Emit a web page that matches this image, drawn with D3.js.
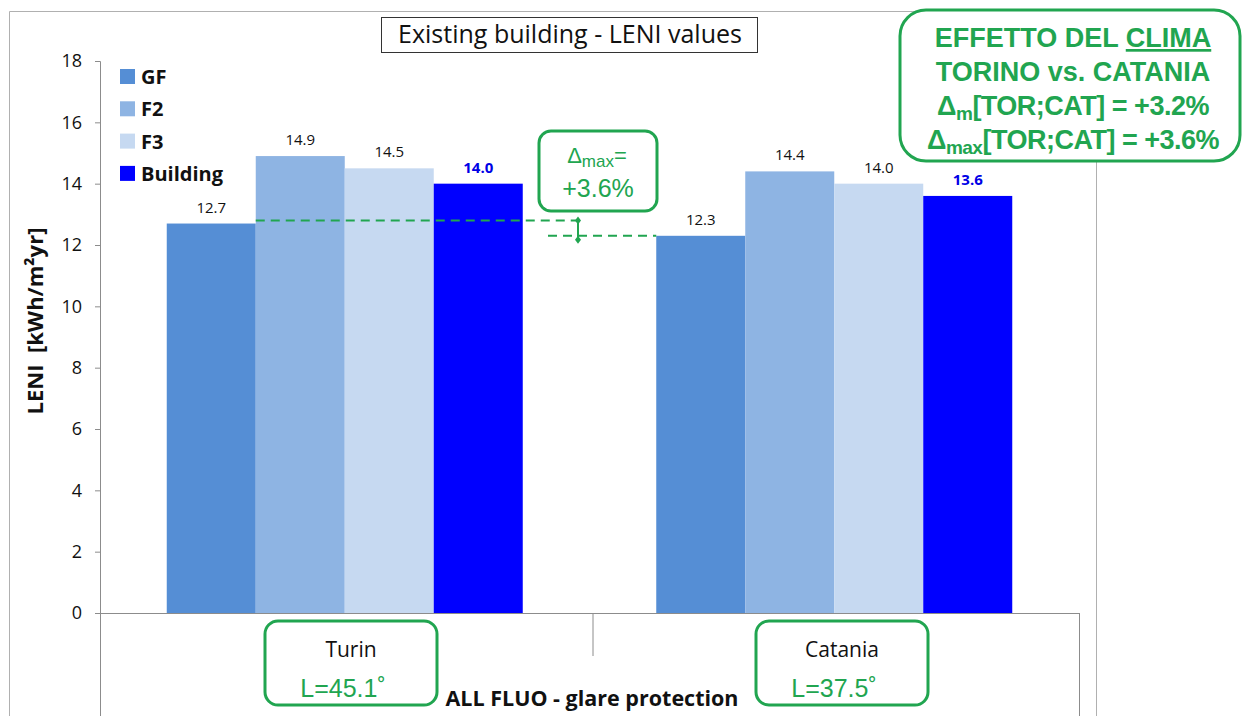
<!DOCTYPE html>
<html><head><meta charset="utf-8">
<script src="https://cdn.jsdelivr.net/npm/d3@7"></script>
<style>body{margin:0;background:#fff}svg{display:block}</style>
</head><body>
<svg id="c" width="1243" height="716"></svg>
<script>
const categories = ["Turin", "Catania"];
const latitudes = ["L=45.1˚", "L=37.5˚"];
const seriesNames = ["GF", "F2", "F3", "Building"];
const seriesColors = ["#558ED5", "#8EB4E3", "#C6D9F1", "#0000FF"];
const values = {
  GF: [12.7, 12.3],
  F2: [14.9, 14.4],
  F3: [14.5, 14.0],
  Building: [14.0, 13.6]
};
const yTicks = [0, 2, 4, 6, 8, 10, 12, 14, 16, 18];
const title = "Existing building - LENI values";
const yLabel = "LENI  [kWh/m²yr]";
const xLabel = "ALL FLUO - glare protection";

const svg = d3.select("#c");
const calibri = "'Open Sans', Lato, sans-serif";
const arial = "'Liberation Sans', Arial, sans-serif";
const green = "#21A550";
const axisGray = "#8c8c8c";

const plot = {left: 100, right: 1079, top: 61, bottom: 613};
const y = d3.scaleLinear().domain([0, 18]).range([plot.bottom, plot.top]);
const x0 = d3.scaleBand().domain(categories).range([plot.left, plot.right]).paddingInner(0).paddingOuter(0);
const x1 = d3.scaleBand().domain(seriesNames).range([0, x0.bandwidth()]).paddingInner(0).paddingOuter(0.75);

// outer frame
svg.append("path").attr("d", "M9.5,716 V11.5 H1096.5 V716").attr("fill", "none").attr("stroke", "#b0b0b0").attr("stroke-width", 1);

// bars
const g = svg.append("g");
categories.forEach((cat, ci) => {
  seriesNames.forEach((s, si) => {
    const v = values[s][ci];
    const bx = x0(cat) + x1(s);
    g.append("rect").attr("x", bx).attr("y", y(v)).attr("width", x1.bandwidth()).attr("height", y(0) - y(v)).attr("fill", seriesColors[si]);
    const isB = s === "Building";
    g.append("text").attr("x", bx + x1.bandwidth() / 2).attr("y", y(v) - 11)
      .attr("text-anchor", "middle").attr("font-family", calibri).attr("font-size", 15)
      .attr("font-weight", isB ? "bold" : "normal").attr("fill", isB ? "#0000E6" : "#111")
      .text(v.toFixed(1));
  });
});

// y axis
const yAxis = d3.axisLeft(y).tickValues(yTicks).tickSize(5).tickPadding(13).tickFormat(d3.format("d"));
const ya = svg.append("g").attr("transform", `translate(${plot.left},0)`).call(yAxis);
ya.select(".domain").attr("stroke", axisGray).attr("d", `M-5,${plot.top}.5H0.5V${plot.bottom}`);
ya.selectAll(".tick line").attr("stroke", axisGray);
ya.selectAll(".tick text").attr("font-family", calibri).attr("font-size", 18).attr("fill", "#111");

// x axis (category boxes)
const xa = svg.append("g");
xa.append("line").attr("x1", plot.left - 5).attr("x2", plot.right).attr("y1", plot.bottom + 0.5).attr("y2", plot.bottom + 0.5).attr("stroke", axisGray);
xa.append("line").attr("x1", plot.left + 0.5).attr("x2", plot.left + 0.5).attr("y1", plot.bottom).attr("y2", 716).attr("stroke", axisGray);
xa.append("line").attr("x1", plot.right + 0.5).attr("x2", plot.right + 0.5).attr("y1", plot.bottom).attr("y2", 716).attr("stroke", axisGray);
xa.append("line").attr("x1", x0("Catania") + 3.5).attr("x2", x0("Catania") + 3.5).attr("y1", plot.bottom).attr("y2", 656).attr("stroke", axisGray);

// category label boxes
const boxCx = [351, 842];
const latCx = [343, 834];
categories.forEach((cat, ci) => {
  const cx = boxCx[ci];
  svg.append("rect").attr("x", cx - 86).attr("y", 621).attr("width", 172).attr("height", 84).attr("rx", 13)
    .attr("fill", "#fff").attr("stroke", green).attr("stroke-width", 3);
  svg.append("text").attr("x", cx).attr("y", 657).attr("text-anchor", "middle").attr("font-family", calibri)
    .attr("font-size", 21).attr("fill", "#111").text(cat);
  svg.append("text").attr("x", latCx[ci]).attr("y", 697).attr("text-anchor", "middle").attr("font-family", arial)
    .attr("font-size", 25).attr("fill", green).text(latitudes[ci]);
});
svg.append("text").attr("x", 592).attr("y", 706).attr("text-anchor", "middle").attr("font-family", calibri)
  .attr("font-weight", "bold").attr("font-size", 21.5).attr("fill", "#111").text(xLabel);

// y label
svg.append("text").attr("transform", `translate(43,321) rotate(-90)`)
  .attr("text-anchor", "middle").attr("font-family", calibri).attr("font-weight", "bold").attr("font-size", 22)
  .attr("xml:space", "preserve").style("white-space", "pre")
  .attr("fill", "#111").text(yLabel);

// title box
svg.append("rect").attr("x", 381.5).attr("y", 17.5).attr("width", 376).attr("height", 35).attr("fill", "#fff").attr("stroke", "#333").attr("stroke-width", 1);
svg.append("text").attr("x", 570).attr("y", 43).attr("text-anchor", "middle").attr("font-family", calibri)
  .attr("font-size", 25).attr("fill", "#111").text(title);

// legend
seriesNames.forEach((s, i) => {
  const ly = 77 + i * 32.3;
  svg.append("rect").attr("x", 120).attr("y", ly - 8).attr("width", 15).attr("height", 15).attr("fill", seriesColors[i]);
  svg.append("text").attr("x", 141).attr("y", ly + 7).attr("font-family", calibri).attr("font-weight", "bold")
    .attr("font-size", 20).attr("fill", "#111").text(s);
});

// delta annotations
const tGF = values.GF[0], cGF = values.GF[1];
const yTop = y(tGF) - 3, yBot = y(cGF);
const dash = "9,6";
svg.append("line").attr("x1", x0("Turin") + x1("F2")).attr("x2", 576).attr("y1", yTop).attr("y2", yTop)
  .attr("stroke", green).attr("stroke-width", 2).attr("stroke-dasharray", dash);
svg.append("line").attr("x1", 548).attr("x2", x0("Catania") + x1("GF")).attr("y1", yBot).attr("y2", yBot)
  .attr("stroke", green).attr("stroke-width", 2).attr("stroke-dasharray", dash);
svg.append("line").attr("x1", 578).attr("x2", 578).attr("y1", yTop).attr("y2", yBot + 4).attr("stroke", green).attr("stroke-width", 2);
[yTop, yBot + 4].forEach(py => {
  svg.append("path").attr("d", `M578,${py - 4} L581,${py} L578,${py + 4} L575,${py} Z`).attr("fill", green);
});
svg.append("rect").attr("x", 539).attr("y", 131).attr("width", 118).attr("height", 80).attr("rx", 12)
  .attr("fill", "#fff").attr("stroke", green).attr("stroke-width", 3);
const t1 = svg.append("text").attr("x", 597).attr("y", 163).attr("text-anchor", "middle").attr("font-family", arial)
  .attr("font-size", 22).attr("fill", green);
t1.append("tspan").text("Δ");
t1.append("tspan").attr("font-size", 17).attr("dy", 4).text("max");
t1.append("tspan").attr("dy", -4).text("=");
svg.append("text").attr("x", 598).attr("y", 197).attr("text-anchor", "middle").attr("font-family", arial)
  .attr("font-size", 25).attr("fill", green).text("+3.6%");

// top-right climate box
svg.append("rect").attr("x", 900).attr("y", 10).attr("width", 340).attr("height", 151).attr("rx", 26)
  .attr("fill", "#fff").attr("stroke", green).attr("stroke-width", 3);
const bx = 1073, bf = 27;
const l1 = svg.append("text").attr("x", bx).attr("y", 47).attr("text-anchor", "middle").attr("font-family", arial)
  .attr("font-weight", "bold").attr("font-size", bf).attr("fill", green);
l1.append("tspan").text("EFFETTO DEL ");
l1.append("tspan").attr("text-decoration", "underline").text("CLIMA");
svg.append("text").attr("x", bx).attr("y", 81).attr("text-anchor", "middle").attr("font-family", arial)
  .attr("font-weight", "bold").attr("font-size", bf).attr("fill", green).text("TORINO vs. CATANIA");
const l3 = svg.append("text").attr("x", bx).attr("y", 115).attr("text-anchor", "middle").attr("font-family", arial)
  .attr("font-weight", "bold").attr("font-size", bf).attr("fill", green).attr("letter-spacing", -0.5);
l3.append("tspan").text("Δ");
l3.append("tspan").attr("font-size", 19).attr("dy", 5).text("m");
l3.append("tspan").attr("dy", -5).text("[TOR;CAT] = +3.2%");
const l4 = svg.append("text").attr("x", bx).attr("y", 149).attr("text-anchor", "middle").attr("font-family", arial)
  .attr("font-weight", "bold").attr("font-size", bf).attr("fill", green).attr("letter-spacing", -0.5);
l4.append("tspan").text("Δ");
l4.append("tspan").attr("font-size", 19).attr("dy", 5).text("max");
l4.append("tspan").attr("dy", -5).text("[TOR;CAT] = +3.6%");
</script>
</body></html>
